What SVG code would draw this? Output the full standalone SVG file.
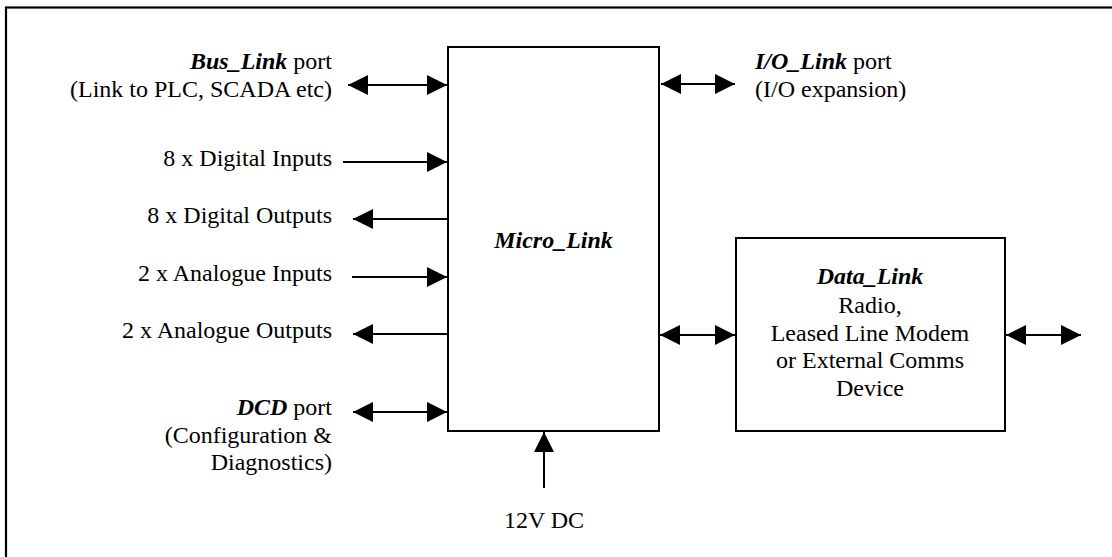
<svg xmlns="http://www.w3.org/2000/svg" width="1112" height="557" viewBox="0 0 1112 557" font-family="'Liberation Serif', 'Times New Roman', Times, 'DejaVu Serif', serif">
<style>
text{font-family:'Liberation Serif','Times New Roman',Times,'DejaVu Serif',serif;font-size:24px;fill:#000}
.bi{font-weight:bold;font-style:italic}
.box{fill:#fff;stroke:#000;stroke-width:2}
.ln{stroke:#000;stroke-width:2;fill:none}
.l{text-anchor:end}
.c{text-anchor:middle}
</style>
<defs>
<marker id="ah" markerUnits="userSpaceOnUse" markerWidth="20" markerHeight="20" refX="20" refY="10" orient="auto-start-reverse" viewBox="0 0 20 20">
<path d="M0,0 L20,10 L0,20 z" fill="#000"/>
</marker>
</defs>
<rect x="6" y="7.5" width="1120" height="570" fill="#fff" stroke="#000" stroke-width="2.2"/>
<g id="micro_link">
<rect class="box" x="448" y="47" width="211" height="384"/>
<text class="bi c" x="553.5" y="248">Micro_Link</text>
</g>
<g id="data_link">
<rect class="box" x="736" y="238" width="269" height="193"/>
<text class="bi c" x="870" y="284">Data_Link</text>
<text class="c" x="870" y="313">Radio,</text>
<text class="c" x="870" y="341">Leased Line Modem</text>
<text class="c" x="870" y="368">or External Comms</text>
<text class="c" x="870" y="396">Device</text>
</g>
<g id="bus_link">
<text class="l" x="332" y="69"><tspan class="bi">Bus_Link</tspan> port</text>
<text class="l" x="332" y="97">(Link to PLC, SCADA etc)</text>
</g>
<g id="io_link">
<text x="755" y="69"><tspan class="bi">I/O_Link</tspan> port</text>
<text x="755" y="97">(I/O expansion)</text>
</g>
<g id="dig_in"><text class="l" x="332" y="166">8 x Digital Inputs</text></g>
<g id="dig_out"><text class="l" x="332" y="223">8 x Digital Outputs</text></g>
<g id="an_in"><text class="l" x="332" y="281">2 x Analogue Inputs</text></g>
<g id="an_out"><text class="l" x="332" y="338">2 x Analogue Outputs</text></g>
<g id="dcd">
<text class="l" x="332" y="415"><tspan class="bi">DCD</tspan> port</text>
<text class="l" x="332" y="443">(Configuration &amp;</text>
<text class="l" x="332" y="470">Diagnostics)</text>
</g>
<g id="power"><text class="c" x="544" y="528">12V DC</text></g>
<g id="connectors">
<line class="ln" x1="348" y1="85" x2="447" y2="85" marker-start="url(#ah)" marker-end="url(#ah)"/>
<line class="ln" x1="343" y1="162" x2="447" y2="162" marker-end="url(#ah)"/>
<line class="ln" x1="448" y1="219" x2="353" y2="219" marker-end="url(#ah)"/>
<line class="ln" x1="352" y1="277" x2="447" y2="277" marker-end="url(#ah)"/>
<line class="ln" x1="448" y1="334" x2="353" y2="334" marker-end="url(#ah)"/>
<line class="ln" x1="353" y1="412" x2="447" y2="412" marker-start="url(#ah)" marker-end="url(#ah)"/>
<line class="ln" x1="661" y1="84" x2="735" y2="84" marker-start="url(#ah)" marker-end="url(#ah)"/>
<line class="ln" x1="660" y1="335" x2="735" y2="335" marker-start="url(#ah)" marker-end="url(#ah)"/>
<line class="ln" x1="1006" y1="335" x2="1081" y2="335" marker-start="url(#ah)" marker-end="url(#ah)"/>
<line class="ln" x1="544" y1="488" x2="544" y2="432" marker-end="url(#ah)"/>
</g>
</svg>
